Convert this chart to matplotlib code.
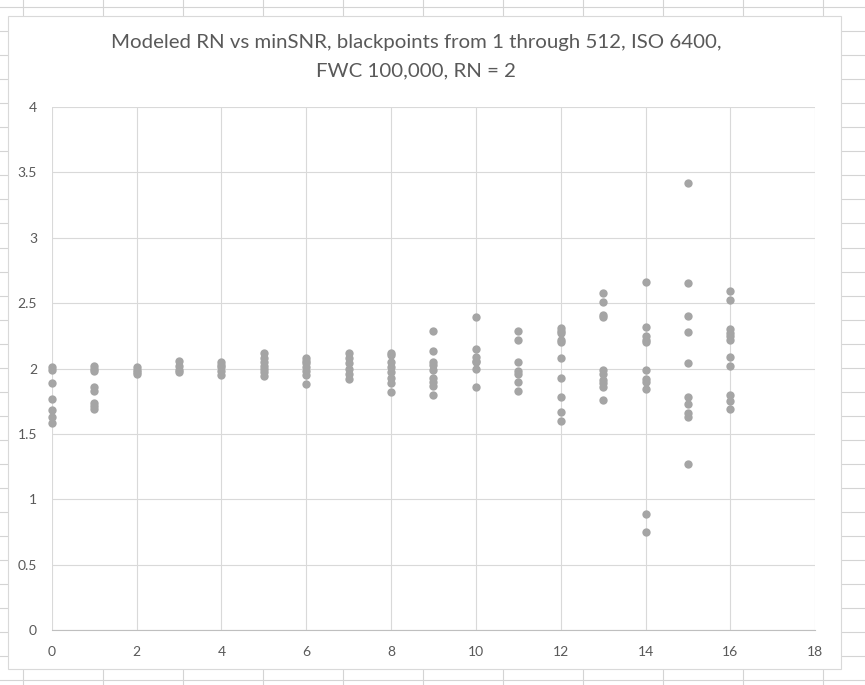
import numpy as np
import matplotlib as mpl
mpl.use("Agg")
from matplotlib import pyplot as plt
from matplotlib.lines import Line2D
from matplotlib.patches import Rectangle

# minSNR values (x) and modeled read noise readings per minSNR (y)
min_snr = [0, 1, 2, 3, 4, 5, 6, 7, 8, 9, 10, 11, 12, 13, 14, 15, 16]
rn_0 = [2.01, 1.99, 1.89, 1.77, 1.68, 1.63, 1.58]
rn_1 = [2.02, 2.00, 1.98, 1.86, 1.83, 1.74, 1.71, 1.69]
rn_2 = [2.01, 1.99, 1.97, 1.96]
rn_3 = [2.06, 2.02, 1.99, 1.97]
rn_4 = [2.05, 2.03, 2.01, 1.98, 1.95]
rn_5 = [2.12, 2.08, 2.05, 2.02, 2.00, 1.97, 1.94]
rn_6 = [2.08, 2.06, 2.04, 2.01, 1.98, 1.95, 1.88]
rn_7 = [2.12, 2.08, 2.04, 2.00, 1.96, 1.92]
rn_8 = [2.12, 2.10, 2.05, 2.01, 1.97, 1.93, 1.89, 1.82]
rn_9 = [2.29, 2.13, 2.05, 2.03, 1.99, 1.93, 1.90, 1.87, 1.80]
rn_10 = [2.39, 2.15, 2.09, 2.06, 2.05, 2.00, 1.86]
rn_11 = [2.29, 2.22, 2.05, 1.98, 1.96, 1.90, 1.83]
rn_12 = [2.31, 2.29, 2.27, 2.22, 2.20, 2.08, 1.93, 1.78, 1.67, 1.60]
rn_13 = [2.58, 2.51, 2.41, 2.39, 1.99, 1.96, 1.91, 1.89, 1.86, 1.76]
rn_14 = [2.66, 2.32, 2.25, 2.22, 2.20, 1.99, 1.92, 1.90, 1.84, 0.89, 0.75]
rn_15 = [3.42, 2.65, 2.40, 2.28, 2.04, 1.78, 1.73, 1.66, 1.63, 1.27]
rn_16 = [2.59, 2.52, 2.30, 2.27, 2.25, 2.22, 2.09, 2.02, 1.80, 1.75, 1.69]
rn_cols = [rn_0, rn_1, rn_2, rn_3, rn_4, rn_5, rn_6, rn_7, rn_8, rn_9,
           rn_10, rn_11, rn_12, rn_13, rn_14, rn_15, rn_16]

x_ticks = [0, 2, 4, 6, 8, 10, 12, 14, 16, 18]
y_ticks = [0, 0.5, 1, 1.5, 2, 2.5, 3, 3.5, 4]
y_tick_labels = ["0", "0.5", "1", "1.5", "2", "2.5", "3", "3.5", "4"]
title = "Modeled RN vs minSNR, blackpoints from 1 through 512, ISO 6400,\nFWC 100,000, RN = 2"

plt.rcParams["font.family"] = ["Lato", "DejaVu Sans"]

W, H = 865, 685
fig = plt.figure(figsize=(W / 100, H / 100), dpi=100)
fig.patch.set_facecolor("white")

def fx(px):
    return px / W

def fy(py):
    return 1 - py / H

# spreadsheet cell lines behind the chart
cell_col = "#d4d4d4"
for k in range(29):
    yy = fy(7.3 + 24.02 * k)
    fig.add_artist(Line2D([0, 1], [yy, yy], color=cell_col, lw=0.8, zorder=-3))
for k in range(11):
    xx = fx(23.3 + 80 * k)
    fig.add_artist(Line2D([xx, xx], [0, 1], color=cell_col, lw=0.8, zorder=-3))

# chart area box
fig.add_artist(Rectangle((fx(8.3), fy(669)), fx(833), 653 / H,
                         facecolor="white", edgecolor="#d9d9d9", lw=0.8,
                         zorder=-2))

ax = fig.add_axes([fx(51.7), fy(630.3), fx(815.3 - 51.7), (630.3 - 106.7) / H])

# flatten columns into x/y pairs
xs = []
ys = []
for x, col in zip(min_snr, rn_cols):
    xs += [x] * len(col)
    ys += col
ax.scatter(xs, ys, s=36, color="#a5a5a5", linewidths=0, zorder=3, clip_on=False)

ax.set_xlim(0, 18)
ax.set_ylim(0, 4)
ax.set_xticks(x_ticks)
ax.set_yticks(y_ticks)
ax.set_yticklabels(y_tick_labels)
ax.grid(True, color="#d9d9d9", lw=0.8)
ax.set_axisbelow(True)
for s in ["left", "top", "right"]:
    ax.spines[s].set_visible(False)
ax.spines["bottom"].set_color("#bfbfbf")
ax.spines["bottom"].set_linewidth(0.8)
ax.tick_params(length=0, labelsize=10, labelcolor="#595959")
ax.tick_params(axis="y", pad=10.5)
ax.tick_params(axis="x", pad=11)

fig.text(fx(416), fy(34), title, ha="center", va="top", fontsize=14.7,
         color="#595959", linespacing=1.8)

fig.savefig("out.png", dpi=100)
